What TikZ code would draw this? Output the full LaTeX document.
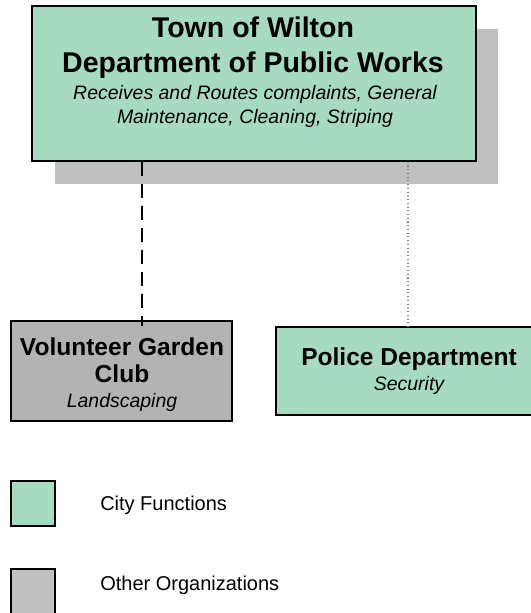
\documentclass[tikz,border=0pt]{standalone}
\usepackage{fontspec}
\setmainfont{Liberation Sans}
\definecolor{cityfill}{HTML}{A6DBC1}
\definecolor{orgfill}{HTML}{B3B3B3}
\definecolor{keyfill}{HTML}{C0C0C0}
\definecolor{shadowgray}{HTML}{C0C0C0}
\tikzset{
  orgbox/.style={draw=black, line width=1.1pt, rectangle, inner sep=0pt},
  citybox/.style={orgbox, fill=cityfill},
  otherbox/.style={orgbox, fill=orgfill},
  title/.style={font=\bfseries\fontsize{21.4}{26}\selectfont, anchor=base, inner sep=0pt},
  head/.style={font=\bfseries\fontsize{18.4}{22}\selectfont, anchor=base, inner sep=0pt},
  duty/.style={font=\itshape\fontsize{14.6}{18}\selectfont, anchor=base, inner sep=0pt},
  keytext/.style={font=\fontsize{15}{18}\selectfont, anchor=base west, inner sep=0pt}
}
\begin{document}
\begin{tikzpicture}[x=0.75pt, y=-0.75pt]
\clip (0,0) rectangle (531,613);
% drop shadow behind the public works box
\fill[shadowgray] (55,29) rectangle (498,184);
% public works
\node[citybox, minimum width=444*0.75pt, minimum height=155*0.75pt] (dpw) at (254,83.5) {};
\node[title] (dpw1) at (253,38) {Town of Wilton};
\node[title] (dpw2) at (253,73) {Department of Public Works};
\node[duty] (dpw3) at (255,100) {Receives and Routes complaints, General};
\node[duty] (dpw4) at (255,124) {Maintenance, Cleaning, Striping};
% garden club
\node[otherbox, minimum width=221*0.75pt, minimum height=100*0.75pt] (club) at (121.5,371) {};
\node[head] (club1) at (122,355) {Volunteer Garden};
\node[head] (club2) at (122,382) {Club};
\node[duty] (club3) at (122,407) {Landscaping};
% police
\node[citybox, minimum width=266*0.75pt, minimum height=88*0.75pt] (pol) at (409,371) {};
\node[head] (pol1) at (409,365) {Police Department};
\node[duty] (pol2) at (409,390) {Security};
% links
\coordinate (clubtop) at (142,326);
\coordinate (poltop) at (408,327);
\draw[line width=1.2pt, dash pattern=on 10.5pt off 6pt] (dpw.south -| clubtop) -- (clubtop);
\draw[gray, line width=0.8pt, dotted] (dpw.south -| poltop) -- (poltop);
% key
\node[citybox, minimum width=44*0.75pt, minimum height=45*0.75pt] (keycity) at (33,503.5) {};
\node[keytext] (keycitytext) at (100,510) {City Functions};
\node[orgbox, fill=keyfill, minimum width=44*0.75pt, minimum height=45*0.75pt] (keyorg) at (33,591.5) {};
\node[keytext] (keyorgtext) at (100,590) {Other Organizations};
\end{tikzpicture}
\end{document}
